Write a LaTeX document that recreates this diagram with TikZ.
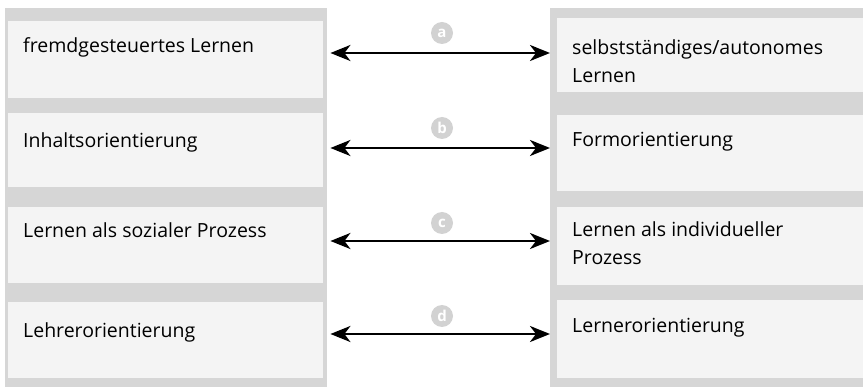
\documentclass[tikz,border=0pt]{standalone}
\usepackage{fontspec}
\setmainfont{Open Sans}
\usetikzlibrary{arrows.meta}
\usetikzlibrary{positioning}
\definecolor{panelgray}{HTML}{D6D6D6}
\definecolor{fieldgray}{HTML}{F4F4F4}
\definecolor{taggray}{HTML}{D2D2D2}
\tikzset{
    panel/.style = {fill=panelgray,inner sep=0,anchor=north west},
    field/.style = {fill=fieldgray,inner sep=0,anchor=north west},
    term/.style = {anchor=base west,inner sep=0,align=left,font=\fontsize{19.5}{28}\selectfont},
    contrast/.style = {line width=2.6pt,{Stealth[length=20pt,width=16pt,inset=6pt]}-{Stealth[length=20pt,width=16pt,inset=6pt]}},
    tag/.style = {circle,fill=taggray,text=white,inner sep=0,minimum size=22pt,font=\bfseries\fontsize{15}{15}\selectfont}
}
\begin{document}
\begin{tikzpicture}[x=1pt,y=-1pt]
        \useasboundingbox (0,0) rectangle (863,387);
        % Panels
        \node[panel,minimum width=322pt,minimum height=379pt] (pl) at (5,8) {};
        \node[panel,minimum width=313pt,minimum height=379pt] (pr) at (550,8) {};
        % Fields
        \foreach \i/\y/\h in {1/21/77,2/113/74,3/207/76,4/302/76}
            \node[field,minimum width=315pt,minimum height=\h pt] (fl\i) at (8,\y) {};
        \foreach \i/\y/\h in {1/18/74,2/115/76,3/207/78,4/300/78}
            \node[field,minimum width=306pt,minimum height=\h pt] (fr\i) at (557,\y) {};
        % Terms (two-line terms sit on their last baseline)
        \node[term] (tl1) at (23,53) {fremdgesteuertes Lernen};
        \node[term] (tl2) at (23,148) {Inhaltsorientierung};
        \node[term] (tl3) at (23,238) {Lernen als sozialer Prozess};
        \node[term] (tl4) at (23,338) {Lehrerorientierung};
        \node[term] (tr1) at (572,83) {selbstständiges/autonomes\\Lernen};
        \node[term] (tr2) at (572,147) {Formorientierung};
        \node[term] (tr3) at (572,265) {Lernen als individueller\\Prozess};
        \node[term] (tr4) at (572,333) {Lernerorientierung};
        % Contrasts
        \foreach \row/\y/\ty in {a/53/33,b/148/128,c/241/223,d/334/316}{
            \node[tag] (t\row) at (442,\ty) {\row};
            \path ([xshift=3pt]pl.east |- t\row) ++(0,\y-\ty) coordinate (s\row);
            \draw[contrast] (s\row) -- (pr.west |- s\row);
        }
    \end{tikzpicture}
\end{document}
